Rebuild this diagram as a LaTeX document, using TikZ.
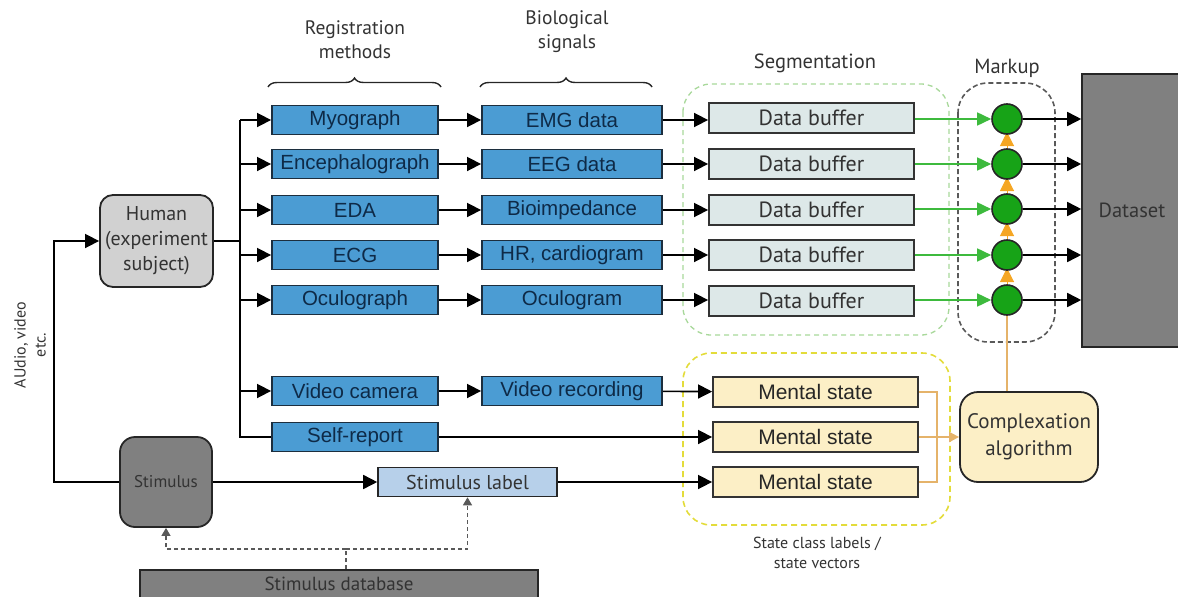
\documentclass[tikz,border=0pt]{standalone}
\usepackage{fontspec}
\setmainfont{Liberation Sans}
\newfontfamily\myriad{PT Sans}
\usetikzlibrary{arrows.meta,decorations.pathreplacing,positioning}

\definecolor{boxblue}{HTML}{4B9CD3}
\definecolor{boxedge}{HTML}{1C2E3E}
\definecolor{bluetext}{HTML}{0E2A47}
\definecolor{buffill}{HTML}{DDE8E8}
\definecolor{mentfill}{HTML}{FCEFC6}
\definecolor{humanfill}{HTML}{D1D1D1}
\definecolor{stimfill}{HTML}{808080}
\definecolor{labfill}{HTML}{B7D0EA}
\definecolor{dotgreen}{HTML}{17A317}
\definecolor{arrgreen}{HTML}{3DBA3D}
\definecolor{tritone}{HTML}{F5A623}
\definecolor{tanline}{HTML}{E5B36A}
\definecolor{yelldash}{HTML}{E3DC3A}
\definecolor{greendash}{HTML}{A8D89A}
\definecolor{textgray}{HTML}{333333}

\begin{document}
\begin{tikzpicture}[x=1pt,y=-1pt,
  every node/.style={inner sep=0pt},
  flow/.style={line width=1.6pt,draw=black},
  arr/.style={flow,-{Triangle[length=14pt,width=14pt]}},
  regbox/.style={draw=boxedge,fill=boxblue,line width=1.8pt,minimum height=29pt,text=bluetext,font=\fontsize{20.5}{22}\selectfont},
  bufbox/.style={draw=textgray,fill=buffill,line width=1.8pt,minimum width=205pt,minimum height=30pt,text=textgray,font=\myriad\fontsize{22}{24}\selectfont},
  mentbox/.style={draw=textgray,fill=mentfill,line width=1.8pt,minimum width=205pt,minimum height=30pt,text=black!85,font=\fontsize{21}{23}\selectfont},
  roundbox/.style={draw=black!85,line width=1.8pt,rounded corners=13pt,align=center,text=textgray,font=\myriad\fontsize{20}{25}\selectfont},
  heading/.style={align=center,text=textgray,font=\myriad\fontsize{19.5}{24}\selectfont},
  markdot/.style={circle,draw=black!85,fill=dotgreen,line width=1.6pt,minimum size=30pt},
  dasharr/.style={draw=black!65,line width=1.3pt,dash pattern=on 4pt off 3pt,-{Triangle[length=8pt,width=9pt]}},
  bracket/.style={draw=black!85,line width=1.4pt,decorate,decoration={brace,amplitude=9pt}}]

\useasboundingbox (0,0) rectangle (1178,597);

% dashed groups
\draw[greendash,line width=1.3pt,dash pattern=on 5pt off 4pt,rounded corners=28pt] (683,84) rectangle (949,335);
\draw[yelldash,line width=1.6pt,dash pattern=on 6pt off 4pt,rounded corners=28pt] (683,353) rectangle (950,525);
\draw[black!65,line width=1.6pt,dash pattern=on 5pt off 3pt,rounded corners=30pt] (958,83) rectangle (1055,342);

% headings
\node[heading] (reghead) at (355,40) {Registration\\methods};
\node[heading] (biohead) at (567,32) {Biological\\signals};
\node[heading,font=\myriad\fontsize{20.5}{24}\selectfont] (seghead) at (815,63) {Segmentation};
\node[heading,font=\myriad\fontsize{20.5}{24}\selectfont] (markhead) at (1007,68) {Markup};
\draw[bracket] (268,87) -- (441,87);
\draw[bracket] (480,87) -- (652,87);

% boxes
\node[roundbox,fill=humanfill,minimum width=113pt,minimum height=92pt] (human) at (156.5,241) {Human\\(experiment\\subject)};
\node[roundbox,fill=stimfill,minimum width=92pt,minimum height=90pt,rounded corners=15pt,font=\myriad\fontsize{17}{20}\selectfont,text=black!80] (stim) at (166,482) {Stimulus};
\node[draw=black!85,fill=labfill,line width=1.6pt,minimum width=179pt,minimum height=29pt,text=textgray,font=\myriad\fontsize{20}{22}\selectfont] (stimlab) at (467.5,482) {Stimulus label};
\node[draw=black!85,fill=stimfill,line width=1.6pt,minimum width=398pt,minimum height=28pt,text=black!80,font=\myriad\fontsize{19}{21}\selectfont] (db) at (339,584) {Stimulus database};

\foreach \n/\y/\t in {myo/120/Myograph,enc/164/Encephalograph,eda/210/EDA,ecg/255/ECG,ocu/300/Oculograph,cam/391/Video camera,self/437/Self-report}
  \node[regbox,minimum width=166pt] (\n) at (355,\y) {\t};
\foreach \n/\y/\t in {emg/120/EMG data,eeg/164/EEG data,bio/210/Bioimpedance,hr/255/{HR, cardiogram},ocg/300/Oculogram,vid/391/Video recording}
  \node[regbox,minimum width=180pt] (\n) at (572,\y) {\t};
\foreach \i/\y in {1/118,2/164,3/210,4/255,5/301}
  \node[bufbox] (buf\i) at (811.5,\y) {Data buffer};
\foreach \i/\y in {1/392,2/437,3/482}
  \node[mentbox] (ms\i) at (815.5,\y) {Mental state};

\node[roundbox,fill=mentfill,minimum width=138pt,minimum height=90pt,rounded corners=18pt,font=\myriad\fontsize{21}{27}\selectfont] (complex) at (1029,437) {Complexation\\algorithm};
\node[draw=black!85,fill=stimfill,line width=1.6pt,minimum width=100pt,minimum height=273pt,text=textgray,font=\myriad\fontsize{20.5}{22}\selectfont] (dataset) at (1132,210.5) {Dataset};

\node[heading,rotate=90,font=\myriad\fontsize{16}{20}\selectfont] (audio) at (30,345) {AUdio, video\\etc.};
\node[heading,font=\myriad\fontsize{16}{20}\selectfont] (statelab) at (817,553) {State class labels /\\state vectors};

% human to registration methods
\coordinate (trunk) at (240,120);
\draw[flow] (human.east) -- (human.east -| trunk);
\draw[flow] (trunk) -- (trunk |- self.west) -- (self.west);
\foreach \n in {myo,enc,eda,ecg,ocu,cam}
  \draw[arr] (trunk |- \n.west) -- (\n.west);
\draw[arr] (stim.west) -- ++(-65,0) |- (human.west);

\draw[arr] (myo) -- (emg);
\draw[arr] (enc) -- (eeg);
\draw[arr] (eda) -- (bio);
\draw[arr] (ecg) -- (hr);
\draw[arr] (ocu) -- (ocg);
\draw[arr] (cam) -- (vid);
\foreach \a/\b in {emg/buf1,eeg/buf2,bio/buf3,hr/buf4,ocg/buf5}
  \draw[arr] (\a.east) -- (\a.east -| \b.west);
\draw[arr] (vid) -- (ms1);
\draw[arr] (self) -- (ms2);
\draw[arr] (stim) -- (stimlab);
\draw[arr] (stimlab) -- (ms3);

% markup
\foreach \i/\y in {1/119,2/164,3/209,4/255,5/300}
  \coordinate (p\i) at (1007,\y);
\foreach \a/\b in {5/4,4/3,3/2,2/1}
  \draw[tritone,line width=1pt,-{Triangle[length=14pt,width=14pt]}] ([yshift=16pt]p\a) -- ([yshift=-13pt]p\b);
\coordinate (tanbus) at (937,392);
\draw[tanline,line width=2pt] (p5) -- (p5 |- complex.north);
\foreach \i in {1,...,5}
  \node[markdot] (m\i) at (p\i) {};
\foreach \i in {1,...,5}{
  \draw[arrgreen,line width=1.6pt,-{Triangle[length=14pt,width=13pt]}] (buf\i.east |- m\i) -- (m\i.west);
  \draw[arr] (m\i.east) -- (m\i -| dataset.west);
}

% mental states to complexation
\draw[tanline,line width=2pt] (ms1.east) -- (ms1.east -| tanbus) -- (ms3.east -| tanbus) -- (ms3.east);
\draw[tanline,line width=2pt,-{Triangle[length=10pt,width=10pt]}] (ms2.east) -- (complex.west);

% stimulus database
\coordinate (split) at (346,549);
\draw[draw=black!65,line width=1.3pt,dash pattern=on 4pt off 3pt] (split |- db.north) -- (split);
\draw[dasharr] (split) -| (stim.south);
\draw[dasharr] (split) -| (stimlab.south);

\end{tikzpicture}
\end{document}
